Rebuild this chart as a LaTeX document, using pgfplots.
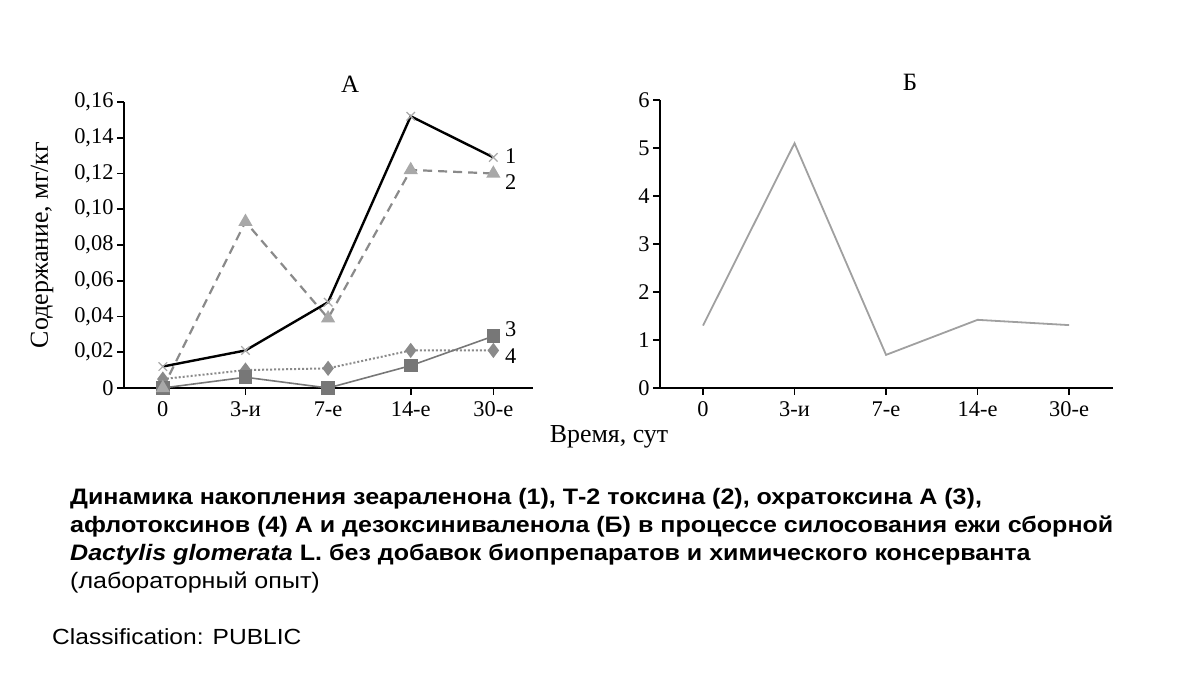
\documentclass[border=0pt]{standalone}
\usepackage{fontspec}
\usepackage{pgfplots}
\pgfplotsset{compat=1.18}
\setmainfont{Liberation Serif}
\newfontfamily\capfont[FakeStretch=1.12]{Liberation Sans}
\definecolor{gA}{HTML}{8A8A8A}
\definecolor{gB}{HTML}{777777}
\definecolor{gC}{HTML}{A8A8A8}
\definecolor{gR}{HTML}{A0A0A0}
\begin{document}
\begin{tikzpicture}[x=1bp,y=1bp]
\useasboundingbox (0,0) rectangle (1200,675);
\pgfplotsset{
  myaxis/.style={
    scale only axis, clip=false,
    axis x line=bottom, axis y line=left,
    axis line style={-, line width=2.2bp, black},
    tick align=outside, major tick length=7bp,
    tick style={line width=1.6bp, black},
    xtick={0,1,2,3,4},
    xticklabels={0,3-и,7-е,14-е,30-е},
    xmin=-0.47, xmax=4.48,
    ymin=0,
    tick label style={font=\fontsize{22.5}{26}\selectfont},
    xticklabel style={yshift=-3bp},
    xtick pos=bottom, ytick pos=left,
  }
}
% ---------- Left panel A ----------
\begin{axis}[myaxis,
  at={(124bp,287bp)}, anchor=south west,
  width=409bp, height=286bp,
  ymax=0.16,
  ytick={0,0.02,0.04,0.06,0.08,0.10,0.12,0.14,0.16},
  yticklabels={0,{0,02},{0,04},{0,06},{0,08},{0,10},{0,12},{0,14},{0,16}},
]
% series 4: dotted, diamonds
\addplot[gA, line width=2bp, dotted, mark=diamond*, mark size=6bp,
  mark options={solid, fill=gA, draw=gA}] coordinates {
  (0,0.005) (1,0.010) (2,0.011) (3,0.021) (4,0.021)};
% series 3: solid gray, squares
\addplot[gB, line width=1.6bp, mark=square*, mark size=6bp,
  mark options={solid, fill=gB, draw=gB}] coordinates {
  (0,0.000) (1,0.006) (2,0.000) (3,0.0125) (4,0.029)};
% series 2: dashed, triangles
\addplot[gA, line width=2.2bp, dash pattern=on 9bp off 6bp, mark=triangle*, mark size=6bp,
  mark options={solid, fill=gC, draw=gC}] coordinates {
  (0,0.000) (1,0.093) (2,0.039) (3,0.122) (4,0.120)};
% series 1: black solid, crosses
\addplot[black, line width=2.4bp, mark=x, mark size=6bp,
  mark options={solid, draw=gC, line width=1.2bp}] coordinates {
  (0,0.012) (1,0.021) (2,0.048) (3,0.152) (4,0.129)};
\node[anchor=west, font=\fontsize{22.5}{26}\selectfont] at (axis cs:4.1,0.130) {1};
\node[anchor=west, font=\fontsize{22.5}{26}\selectfont] at (axis cs:4.1,0.115) {2};
\node[anchor=west, font=\fontsize{22.5}{26}\selectfont] at (axis cs:4.1,0.033) {3};
\node[anchor=west, font=\fontsize{22.5}{26}\selectfont] at (axis cs:4.1,0.018) {4};
\end{axis}
% ---------- Right panel B ----------
\begin{axis}[myaxis,
  at={(660bp,287bp)}, anchor=south west,
  width=453bp, height=288bp,
  ymax=6,
  ytick={0,1,2,3,4,5,6},
  yticklabels={0,1,2,3,4,5,6},
]
\addplot[gR, line width=1.8bp] coordinates {
  (0,1.30) (1,5.10) (2,0.69) (3,1.42) (4,1.31)};
\end{axis}
% titles and labels
\node[font=\fontsize{25}{28}\selectfont] at (350bp,591bp) {А};
\node[font=\fontsize{25}{28}\selectfont] at (910bp,593bp) {Б};
\node[font=\fontsize{26}{28}\selectfont] at (609bp,238bp) {Время, сут};
\node[font=\fontsize{26}{28}\selectfont, rotate=90] at (42bp,430bp) {Содержание, мг/кг};
% caption
\node[anchor=base west, inner sep=0pt, font=\capfont\bfseries\fontsize{22.45}{28}\selectfont] at (70bp,170bp)
  {Динамика накопления зеараленона (1), Т-2 токсина (2), охратоксина А (3),};
\node[anchor=base west, inner sep=0pt, font=\capfont\bfseries\fontsize{22.45}{28}\selectfont] at (70bp,142bp)
  {афлотоксинов (4) А и дезоксиниваленола (Б) в процессе силосования ежи сборной};
\node[anchor=base west, inner sep=0pt, font=\capfont\bfseries\fontsize{22.45}{28}\selectfont] at (70bp,114bp)
  {\itshape Dactylis glomerata\upshape{} L. без добавок биопрепаратов и химического консерванта};
\node[anchor=base west, inner sep=0pt, font=\capfont\fontsize{22.45}{28}\selectfont] at (70bp,86bp)
  {(лабораторный опыт)};
\node[anchor=base west, inner sep=0pt, font=\capfont\fontsize{22}{28}\selectfont] at (52bp,30bp)
  {Classification: PUBLIC};
\end{tikzpicture}
\end{document}
